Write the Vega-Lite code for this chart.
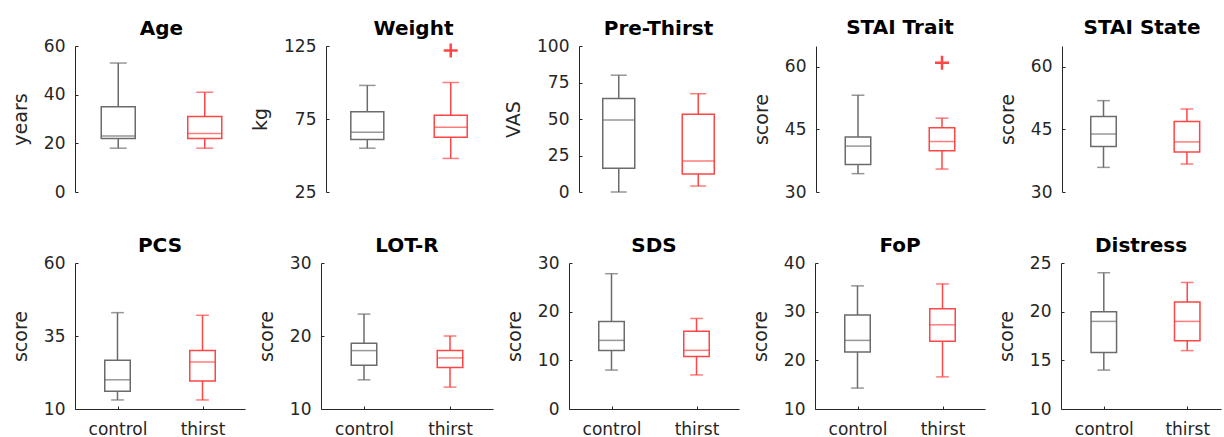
{
  "$schema": "https://vega.github.io/schema/vega-lite/v6.json",
  "padding": {"left": 11, "top": 18, "right": 0, "bottom": 0},
  "background": "white",
  "datasets": {
    "stats": [
      {"measure": "Age", "group": "control", "lower": 18, "q1": 22, "median": 23, "q3": 35, "upper": 53},
      {"measure": "Age", "group": "thirst", "lower": 18, "q1": 22, "median": 24, "q3": 31, "upper": 41},
      {"measure": "Weight", "group": "control", "lower": 55, "q1": 61, "median": 66, "q3": 80, "upper": 98},
      {"measure": "Weight", "group": "thirst", "lower": 48, "q1": 62.5, "median": 69.3, "q3": 77.5, "upper": 100},
      {"measure": "Pre-Thirst", "group": "control", "lower": 0, "q1": 16.2, "median": 49.4, "q3": 64, "upper": 80},
      {"measure": "Pre-Thirst", "group": "thirst", "lower": 4.1, "q1": 12.4, "median": 21.3, "q3": 53.3, "upper": 67.3},
      {"measure": "STAI Trait", "group": "control", "lower": 34.4, "q1": 36.6, "median": 41, "q3": 43.2, "upper": 53.2},
      {"measure": "STAI Trait", "group": "thirst", "lower": 35.5, "q1": 39.9, "median": 42.1, "q3": 45.4, "upper": 47.7},
      {"measure": "STAI State", "group": "control", "lower": 35.9, "q1": 40.9, "median": 43.9, "q3": 48.1, "upper": 51.9},
      {"measure": "STAI State", "group": "thirst", "lower": 36.7, "q1": 39.6, "median": 42, "q3": 46.9, "upper": 49.9},
      {"measure": "PCS", "group": "control", "lower": 13.1, "q1": 16.1, "median": 20, "q3": 26.7, "upper": 43},
      {"measure": "PCS", "group": "thirst", "lower": 13.1, "q1": 19.6, "median": 26.1, "q3": 30, "upper": 42.1},
      {"measure": "LOT-R", "group": "control", "lower": 14, "q1": 16, "median": 18, "q3": 19, "upper": 23},
      {"measure": "LOT-R", "group": "thirst", "lower": 13, "q1": 15.7, "median": 17, "q3": 18, "upper": 20},
      {"measure": "SDS", "group": "control", "lower": 8, "q1": 12, "median": 14.1, "q3": 18, "upper": 27.8},
      {"measure": "SDS", "group": "thirst", "lower": 7, "q1": 10.8, "median": 12.05, "q3": 16, "upper": 18.6},
      {"measure": "FoP", "group": "control", "lower": 14.3, "q1": 21.7, "median": 24.1, "q3": 29.3, "upper": 35.3},
      {"measure": "FoP", "group": "thirst", "lower": 16.6, "q1": 23.9, "median": 27.3, "q3": 30.6, "upper": 35.7},
      {"measure": "Distress", "group": "control", "lower": 14, "q1": 15.8, "median": 19, "q3": 20, "upper": 24},
      {"measure": "Distress", "group": "thirst", "lower": 16, "q1": 17, "median": 19, "q3": 21, "upper": 23}
    ],
    "outliers": [
      {"measure": "Weight", "group": "thirst", "value": 122},
      {"measure": "STAI Trait", "group": "thirst", "value": 61}
    ]
  },
  "config": {
    "view": {"stroke": null},
    "font": "DejaVu Sans",
    "title": {"font": "DejaVu Sans", "fontSize": 20, "fontWeight": "bold", "color": "#000000"},
    "axis": {
      "grid": false,
      "domainColor": "#262626",
      "domainWidth": 1,
      "tickColor": "#262626",
      "tickSize": -3,
      "tickWidth": 1,
      "labelColor": "#262626",
      "labelFont": "DejaVu Sans",
      "labelFontSize": 17,
      "titleFont": "DejaVu Sans",
      "titleFontSize": 19,
      "titleFontWeight": "normal",
      "titleColor": "#262626"
    },
    "axisY": {"labelPadding": 13, "titlePadding": 13},
    "axisX": {"labelPadding": 15, "labelAngle": 0, "title": null}
  },
  "spacing": 36,
  "vconcat": [
    {
      "bounds": "flush",
      "spacing": 78,
      "hconcat": [
        {
          "width": 173, "height": 146, "title": {"text": "Age", "offset": -2},
          "data": {"name": "stats"},
          "transform": [{"filter": "datum.measure === 'Age'"}],
          "encoding": {"x": {"field": "group", "type": "nominal", "scale": {"type": "point", "domain": ["control", "thirst"], "padding": 0.5}, "axis": null}},
          "layer": [
            {"mark": {"type": "rule", "strokeWidth": 1.5}, "encoding": {"y": {"field": "lower", "type": "quantitative", "scale": {"domain": [0, 60], "nice": false, "zero": false}, "axis": {"title": "years", "values": [0, 20, 40, 60]}}, "y2": {"field": "upper"}, "color": {"field": "group", "type": "nominal", "scale": {"domain": ["control", "thirst"], "range": ["#6b6b6b", "#ff4545"]}, "legend": null}}},
            {"mark": {"type": "bar", "fill": "white", "strokeWidth": 1.5, "width": 34}, "encoding": {"y": {"field": "q1", "type": "quantitative", "scale": {"domain": [0, 60], "nice": false, "zero": false}, "axis": {"title": "years", "values": [0, 20, 40, 60]}}, "y2": {"field": "q3"}, "stroke": {"field": "group", "type": "nominal", "scale": {"domain": ["control", "thirst"], "range": ["#6b6b6b", "#ff4545"]}, "legend": null}}},
            {"mark": {"type": "tick", "thickness": 1.5, "size": 34}, "encoding": {"y": {"field": "median", "type": "quantitative", "scale": {"domain": [0, 60], "nice": false, "zero": false}, "axis": {"title": "years", "values": [0, 20, 40, 60]}}, "color": {"field": "group", "type": "nominal", "scale": {"domain": ["control", "thirst"], "range": ["#6b6b6b", "#ff4545"]}, "legend": null}}},
            {"mark": {"type": "tick", "thickness": 1.5, "size": 17}, "encoding": {"y": {"field": "lower", "type": "quantitative", "scale": {"domain": [0, 60], "nice": false, "zero": false}, "axis": {"title": "years", "values": [0, 20, 40, 60]}}, "color": {"field": "group", "type": "nominal", "scale": {"domain": ["control", "thirst"], "range": ["#6b6b6b", "#ff4545"]}, "legend": null}}},
            {"mark": {"type": "tick", "thickness": 1.5, "size": 17}, "encoding": {"y": {"field": "upper", "type": "quantitative", "scale": {"domain": [0, 60], "nice": false, "zero": false}, "axis": {"title": "years", "values": [0, 20, 40, 60]}}, "color": {"field": "group", "type": "nominal", "scale": {"domain": ["control", "thirst"], "range": ["#6b6b6b", "#ff4545"]}, "legend": null}}}
          ]
        },
        {
          "width": 175, "height": 146, "title": {"text": "Weight", "offset": -2},
          "data": {"name": "stats"},
          "transform": [{"filter": "datum.measure === 'Weight'"}],
          "encoding": {"x": {"field": "group", "type": "nominal", "scale": {"type": "point", "domain": ["control", "thirst"], "padding": 0.549, "align": 0.451}, "axis": null}},
          "layer": [
            {"mark": {"type": "rule", "strokeWidth": 1.5}, "encoding": {"y": {"field": "lower", "type": "quantitative", "scale": {"domain": [25, 125], "nice": false, "zero": false}, "axis": {"title": "kg", "values": [25, 75, 125]}}, "y2": {"field": "upper"}, "color": {"field": "group", "type": "nominal", "scale": {"domain": ["control", "thirst"], "range": ["#6b6b6b", "#ff4545"]}, "legend": null}}},
            {"mark": {"type": "bar", "fill": "white", "strokeWidth": 1.5, "width": 33}, "encoding": {"y": {"field": "q1", "type": "quantitative", "scale": {"domain": [25, 125], "nice": false, "zero": false}, "axis": {"title": "kg", "values": [25, 75, 125]}}, "y2": {"field": "q3"}, "stroke": {"field": "group", "type": "nominal", "scale": {"domain": ["control", "thirst"], "range": ["#6b6b6b", "#ff4545"]}, "legend": null}}},
            {"mark": {"type": "tick", "thickness": 1.5, "size": 33}, "encoding": {"y": {"field": "median", "type": "quantitative", "scale": {"domain": [25, 125], "nice": false, "zero": false}, "axis": {"title": "kg", "values": [25, 75, 125]}}, "color": {"field": "group", "type": "nominal", "scale": {"domain": ["control", "thirst"], "range": ["#6b6b6b", "#ff4545"]}, "legend": null}}},
            {"mark": {"type": "tick", "thickness": 1.5, "size": 16.5}, "encoding": {"y": {"field": "lower", "type": "quantitative", "scale": {"domain": [25, 125], "nice": false, "zero": false}, "axis": {"title": "kg", "values": [25, 75, 125]}}, "color": {"field": "group", "type": "nominal", "scale": {"domain": ["control", "thirst"], "range": ["#6b6b6b", "#ff4545"]}, "legend": null}}},
            {"mark": {"type": "tick", "thickness": 1.5, "size": 16.5}, "encoding": {"y": {"field": "upper", "type": "quantitative", "scale": {"domain": [25, 125], "nice": false, "zero": false}, "axis": {"title": "kg", "values": [25, 75, 125]}}, "color": {"field": "group", "type": "nominal", "scale": {"domain": ["control", "thirst"], "range": ["#6b6b6b", "#ff4545"]}, "legend": null}}},
            {"data": {"name": "outliers"}, "transform": [{"filter": "datum.measure === 'Weight'"}], "mark": {"type": "point", "shape": "M-1,0H1M0,-1V1", "size": 196, "filled": false, "strokeWidth": 2.5, "opacity": 1}, "encoding": {"y": {"field": "value", "type": "quantitative", "scale": {"domain": [25, 125], "nice": false, "zero": false}, "axis": {"title": "kg", "values": [25, 75, 125]}}, "color": {"field": "group", "type": "nominal", "scale": {"domain": ["control", "thirst"], "range": ["#6b6b6b", "#ff4545"]}, "legend": null}}}
          ]
        },
        {
          "width": 159, "height": 146, "title": {"text": "Pre-Thirst", "offset": -2},
          "data": {"name": "stats"},
          "transform": [{"filter": "datum.measure === 'Pre-Thirst'"}],
          "encoding": {"x": {"field": "group", "type": "nominal", "scale": {"type": "point", "domain": ["control", "thirst"], "padding": 0.5}, "axis": null}},
          "layer": [
            {"mark": {"type": "rule", "strokeWidth": 1.5}, "encoding": {"y": {"field": "lower", "type": "quantitative", "scale": {"domain": [0, 100], "nice": false, "zero": false}, "axis": {"title": "VAS", "values": [0, 25, 50, 75, 100]}}, "y2": {"field": "upper"}, "color": {"field": "group", "type": "nominal", "scale": {"domain": ["control", "thirst"], "range": ["#6b6b6b", "#ff4545"]}, "legend": null}}},
            {"mark": {"type": "bar", "fill": "white", "strokeWidth": 1.5, "width": 32}, "encoding": {"y": {"field": "q1", "type": "quantitative", "scale": {"domain": [0, 100], "nice": false, "zero": false}, "axis": {"title": "VAS", "values": [0, 25, 50, 75, 100]}}, "y2": {"field": "q3"}, "stroke": {"field": "group", "type": "nominal", "scale": {"domain": ["control", "thirst"], "range": ["#6b6b6b", "#ff4545"]}, "legend": null}}},
            {"mark": {"type": "tick", "thickness": 1.5, "size": 32}, "encoding": {"y": {"field": "median", "type": "quantitative", "scale": {"domain": [0, 100], "nice": false, "zero": false}, "axis": {"title": "VAS", "values": [0, 25, 50, 75, 100]}}, "color": {"field": "group", "type": "nominal", "scale": {"domain": ["control", "thirst"], "range": ["#6b6b6b", "#ff4545"]}, "legend": null}}},
            {"mark": {"type": "tick", "thickness": 1.5, "size": 16}, "encoding": {"y": {"field": "lower", "type": "quantitative", "scale": {"domain": [0, 100], "nice": false, "zero": false}, "axis": {"title": "VAS", "values": [0, 25, 50, 75, 100]}}, "color": {"field": "group", "type": "nominal", "scale": {"domain": ["control", "thirst"], "range": ["#6b6b6b", "#ff4545"]}, "legend": null}}},
            {"mark": {"type": "tick", "thickness": 1.5, "size": 16}, "encoding": {"y": {"field": "upper", "type": "quantitative", "scale": {"domain": [0, 100], "nice": false, "zero": false}, "axis": {"title": "VAS", "values": [0, 25, 50, 75, 100]}}, "color": {"field": "group", "type": "nominal", "scale": {"domain": ["control", "thirst"], "range": ["#6b6b6b", "#ff4545"]}, "legend": null}}}
          ]
        },
        {
          "width": 168, "height": 146, "title": {"text": "STAI Trait", "offset": 8},
          "data": {"name": "stats"},
          "transform": [{"filter": "datum.measure === 'STAI Trait'"}],
          "encoding": {"x": {"field": "group", "type": "nominal", "scale": {"type": "point", "domain": ["control", "thirst"], "padding": 0.5}, "axis": null}},
          "layer": [
            {"mark": {"type": "rule", "strokeWidth": 1.5}, "encoding": {"y": {"field": "lower", "type": "quantitative", "scale": {"domain": [30, 65], "nice": false, "zero": false}, "axis": {"title": "score", "values": [30, 45, 60]}}, "y2": {"field": "upper"}, "color": {"field": "group", "type": "nominal", "scale": {"domain": ["control", "thirst"], "range": ["#6b6b6b", "#ff4545"]}, "legend": null}}},
            {"mark": {"type": "bar", "fill": "white", "strokeWidth": 1.5, "width": 25.5}, "encoding": {"y": {"field": "q1", "type": "quantitative", "scale": {"domain": [30, 65], "nice": false, "zero": false}, "axis": {"title": "score", "values": [30, 45, 60]}}, "y2": {"field": "q3"}, "stroke": {"field": "group", "type": "nominal", "scale": {"domain": ["control", "thirst"], "range": ["#6b6b6b", "#ff4545"]}, "legend": null}}},
            {"mark": {"type": "tick", "thickness": 1.5, "size": 25.5}, "encoding": {"y": {"field": "median", "type": "quantitative", "scale": {"domain": [30, 65], "nice": false, "zero": false}, "axis": {"title": "score", "values": [30, 45, 60]}}, "color": {"field": "group", "type": "nominal", "scale": {"domain": ["control", "thirst"], "range": ["#6b6b6b", "#ff4545"]}, "legend": null}}},
            {"mark": {"type": "tick", "thickness": 1.5, "size": 12.75}, "encoding": {"y": {"field": "lower", "type": "quantitative", "scale": {"domain": [30, 65], "nice": false, "zero": false}, "axis": {"title": "score", "values": [30, 45, 60]}}, "color": {"field": "group", "type": "nominal", "scale": {"domain": ["control", "thirst"], "range": ["#6b6b6b", "#ff4545"]}, "legend": null}}},
            {"mark": {"type": "tick", "thickness": 1.5, "size": 12.75}, "encoding": {"y": {"field": "upper", "type": "quantitative", "scale": {"domain": [30, 65], "nice": false, "zero": false}, "axis": {"title": "score", "values": [30, 45, 60]}}, "color": {"field": "group", "type": "nominal", "scale": {"domain": ["control", "thirst"], "range": ["#6b6b6b", "#ff4545"]}, "legend": null}}},
            {"data": {"name": "outliers"}, "transform": [{"filter": "datum.measure === 'STAI Trait'"}], "mark": {"type": "point", "shape": "M-1,0H1M0,-1V1", "size": 196, "filled": false, "strokeWidth": 2.5, "opacity": 1}, "encoding": {"y": {"field": "value", "type": "quantitative", "scale": {"domain": [30, 65], "nice": false, "zero": false}, "axis": {"title": "score", "values": [30, 45, 60]}}, "color": {"field": "group", "type": "nominal", "scale": {"domain": ["control", "thirst"], "range": ["#6b6b6b", "#ff4545"]}, "legend": null}}}
          ]
        },
        {
          "width": 160, "height": 146, "title": {"text": "STAI State", "offset": 8},
          "data": {"name": "stats"},
          "transform": [{"filter": "datum.measure === 'STAI State'"}],
          "encoding": {"x": {"field": "group", "type": "nominal", "scale": {"type": "point", "domain": ["control", "thirst"], "padding": 0.459, "align": 0.542}, "axis": null}},
          "layer": [
            {"mark": {"type": "rule", "strokeWidth": 1.5}, "encoding": {"y": {"field": "lower", "type": "quantitative", "scale": {"domain": [30, 65], "nice": false, "zero": false}, "axis": {"title": "score", "values": [30, 45, 60]}}, "y2": {"field": "upper"}, "color": {"field": "group", "type": "nominal", "scale": {"domain": ["control", "thirst"], "range": ["#6b6b6b", "#ff4545"]}, "legend": null}}},
            {"mark": {"type": "bar", "fill": "white", "strokeWidth": 1.5, "width": 25.5}, "encoding": {"y": {"field": "q1", "type": "quantitative", "scale": {"domain": [30, 65], "nice": false, "zero": false}, "axis": {"title": "score", "values": [30, 45, 60]}}, "y2": {"field": "q3"}, "stroke": {"field": "group", "type": "nominal", "scale": {"domain": ["control", "thirst"], "range": ["#6b6b6b", "#ff4545"]}, "legend": null}}},
            {"mark": {"type": "tick", "thickness": 1.5, "size": 25.5}, "encoding": {"y": {"field": "median", "type": "quantitative", "scale": {"domain": [30, 65], "nice": false, "zero": false}, "axis": {"title": "score", "values": [30, 45, 60]}}, "color": {"field": "group", "type": "nominal", "scale": {"domain": ["control", "thirst"], "range": ["#6b6b6b", "#ff4545"]}, "legend": null}}},
            {"mark": {"type": "tick", "thickness": 1.5, "size": 12.75}, "encoding": {"y": {"field": "lower", "type": "quantitative", "scale": {"domain": [30, 65], "nice": false, "zero": false}, "axis": {"title": "score", "values": [30, 45, 60]}}, "color": {"field": "group", "type": "nominal", "scale": {"domain": ["control", "thirst"], "range": ["#6b6b6b", "#ff4545"]}, "legend": null}}},
            {"mark": {"type": "tick", "thickness": 1.5, "size": 12.75}, "encoding": {"y": {"field": "upper", "type": "quantitative", "scale": {"domain": [30, 65], "nice": false, "zero": false}, "axis": {"title": "score", "values": [30, 45, 60]}}, "color": {"field": "group", "type": "nominal", "scale": {"domain": ["control", "thirst"], "range": ["#6b6b6b", "#ff4545"]}, "legend": null}}}
          ]
        }
      ]
    },
    {
      "bounds": "flush",
      "spacing": 76,
      "hconcat": [
        {
          "width": 170, "height": 146, "title": {"text": "PCS", "offset": -2},
          "data": {"name": "stats"},
          "transform": [{"filter": "datum.measure === 'PCS'"}],
          "encoding": {"x": {"field": "group", "type": "nominal", "scale": {"type": "point", "domain": ["control", "thirst"], "padding": 0.5}, "axis": {}}},
          "layer": [
            {"mark": {"type": "rule", "strokeWidth": 1.5}, "encoding": {"y": {"field": "lower", "type": "quantitative", "scale": {"domain": [10, 60], "nice": false, "zero": false}, "axis": {"title": "score", "values": [10, 35, 60]}}, "y2": {"field": "upper"}, "color": {"field": "group", "type": "nominal", "scale": {"domain": ["control", "thirst"], "range": ["#6b6b6b", "#ff4545"]}, "legend": null}}},
            {"mark": {"type": "bar", "fill": "white", "strokeWidth": 1.5, "width": 25.5}, "encoding": {"y": {"field": "q1", "type": "quantitative", "scale": {"domain": [10, 60], "nice": false, "zero": false}, "axis": {"title": "score", "values": [10, 35, 60]}}, "y2": {"field": "q3"}, "stroke": {"field": "group", "type": "nominal", "scale": {"domain": ["control", "thirst"], "range": ["#6b6b6b", "#ff4545"]}, "legend": null}}},
            {"mark": {"type": "tick", "thickness": 1.5, "size": 25.5}, "encoding": {"y": {"field": "median", "type": "quantitative", "scale": {"domain": [10, 60], "nice": false, "zero": false}, "axis": {"title": "score", "values": [10, 35, 60]}}, "color": {"field": "group", "type": "nominal", "scale": {"domain": ["control", "thirst"], "range": ["#6b6b6b", "#ff4545"]}, "legend": null}}},
            {"mark": {"type": "tick", "thickness": 1.5, "size": 12.75}, "encoding": {"y": {"field": "lower", "type": "quantitative", "scale": {"domain": [10, 60], "nice": false, "zero": false}, "axis": {"title": "score", "values": [10, 35, 60]}}, "color": {"field": "group", "type": "nominal", "scale": {"domain": ["control", "thirst"], "range": ["#6b6b6b", "#ff4545"]}, "legend": null}}},
            {"mark": {"type": "tick", "thickness": 1.5, "size": 12.75}, "encoding": {"y": {"field": "upper", "type": "quantitative", "scale": {"domain": [10, 60], "nice": false, "zero": false}, "axis": {"title": "score", "values": [10, 35, 60]}}, "color": {"field": "group", "type": "nominal", "scale": {"domain": ["control", "thirst"], "range": ["#6b6b6b", "#ff4545"]}, "legend": null}}}
          ]
        },
        {
          "width": 172, "height": 146, "title": {"text": "LOT-R", "offset": -2},
          "data": {"name": "stats"},
          "transform": [{"filter": "datum.measure === 'LOT-R'"}],
          "encoding": {"x": {"field": "group", "type": "nominal", "scale": {"type": "point", "domain": ["control", "thirst"], "padding": 0.5}, "axis": {}}},
          "layer": [
            {"mark": {"type": "rule", "strokeWidth": 1.5}, "encoding": {"y": {"field": "lower", "type": "quantitative", "scale": {"domain": [10, 30], "nice": false, "zero": false}, "axis": {"title": "score", "values": [10, 20, 30]}}, "y2": {"field": "upper"}, "color": {"field": "group", "type": "nominal", "scale": {"domain": ["control", "thirst"], "range": ["#6b6b6b", "#ff4545"]}, "legend": null}}},
            {"mark": {"type": "bar", "fill": "white", "strokeWidth": 1.5, "width": 25.5}, "encoding": {"y": {"field": "q1", "type": "quantitative", "scale": {"domain": [10, 30], "nice": false, "zero": false}, "axis": {"title": "score", "values": [10, 20, 30]}}, "y2": {"field": "q3"}, "stroke": {"field": "group", "type": "nominal", "scale": {"domain": ["control", "thirst"], "range": ["#6b6b6b", "#ff4545"]}, "legend": null}}},
            {"mark": {"type": "tick", "thickness": 1.5, "size": 25.5}, "encoding": {"y": {"field": "median", "type": "quantitative", "scale": {"domain": [10, 30], "nice": false, "zero": false}, "axis": {"title": "score", "values": [10, 20, 30]}}, "color": {"field": "group", "type": "nominal", "scale": {"domain": ["control", "thirst"], "range": ["#6b6b6b", "#ff4545"]}, "legend": null}}},
            {"mark": {"type": "tick", "thickness": 1.5, "size": 12.75}, "encoding": {"y": {"field": "lower", "type": "quantitative", "scale": {"domain": [10, 30], "nice": false, "zero": false}, "axis": {"title": "score", "values": [10, 20, 30]}}, "color": {"field": "group", "type": "nominal", "scale": {"domain": ["control", "thirst"], "range": ["#6b6b6b", "#ff4545"]}, "legend": null}}},
            {"mark": {"type": "tick", "thickness": 1.5, "size": 12.75}, "encoding": {"y": {"field": "upper", "type": "quantitative", "scale": {"domain": [10, 30], "nice": false, "zero": false}, "axis": {"title": "score", "values": [10, 20, 30]}}, "color": {"field": "group", "type": "nominal", "scale": {"domain": ["control", "thirst"], "range": ["#6b6b6b", "#ff4545"]}, "legend": null}}}
          ]
        },
        {
          "width": 170, "height": 146, "title": {"text": "SDS", "offset": -2},
          "data": {"name": "stats"},
          "transform": [{"filter": "datum.measure === 'SDS'"}],
          "encoding": {"x": {"field": "group", "type": "nominal", "scale": {"type": "point", "domain": ["control", "thirst"], "padding": 0.5}, "axis": {}}},
          "layer": [
            {"mark": {"type": "rule", "strokeWidth": 1.5}, "encoding": {"y": {"field": "lower", "type": "quantitative", "scale": {"domain": [0, 30], "nice": false, "zero": false}, "axis": {"title": "score", "values": [0, 10, 20, 30]}}, "y2": {"field": "upper"}, "color": {"field": "group", "type": "nominal", "scale": {"domain": ["control", "thirst"], "range": ["#6b6b6b", "#ff4545"]}, "legend": null}}},
            {"mark": {"type": "bar", "fill": "white", "strokeWidth": 1.5, "width": 25.5}, "encoding": {"y": {"field": "q1", "type": "quantitative", "scale": {"domain": [0, 30], "nice": false, "zero": false}, "axis": {"title": "score", "values": [0, 10, 20, 30]}}, "y2": {"field": "q3"}, "stroke": {"field": "group", "type": "nominal", "scale": {"domain": ["control", "thirst"], "range": ["#6b6b6b", "#ff4545"]}, "legend": null}}},
            {"mark": {"type": "tick", "thickness": 1.5, "size": 25.5}, "encoding": {"y": {"field": "median", "type": "quantitative", "scale": {"domain": [0, 30], "nice": false, "zero": false}, "axis": {"title": "score", "values": [0, 10, 20, 30]}}, "color": {"field": "group", "type": "nominal", "scale": {"domain": ["control", "thirst"], "range": ["#6b6b6b", "#ff4545"]}, "legend": null}}},
            {"mark": {"type": "tick", "thickness": 1.5, "size": 12.75}, "encoding": {"y": {"field": "lower", "type": "quantitative", "scale": {"domain": [0, 30], "nice": false, "zero": false}, "axis": {"title": "score", "values": [0, 10, 20, 30]}}, "color": {"field": "group", "type": "nominal", "scale": {"domain": ["control", "thirst"], "range": ["#6b6b6b", "#ff4545"]}, "legend": null}}},
            {"mark": {"type": "tick", "thickness": 1.5, "size": 12.75}, "encoding": {"y": {"field": "upper", "type": "quantitative", "scale": {"domain": [0, 30], "nice": false, "zero": false}, "axis": {"title": "score", "values": [0, 10, 20, 30]}}, "color": {"field": "group", "type": "nominal", "scale": {"domain": ["control", "thirst"], "range": ["#6b6b6b", "#ff4545"]}, "legend": null}}}
          ]
        },
        {
          "width": 170, "height": 146, "title": {"text": "FoP", "offset": -2},
          "data": {"name": "stats"},
          "transform": [{"filter": "datum.measure === 'FoP'"}],
          "encoding": {"x": {"field": "group", "type": "nominal", "scale": {"type": "point", "domain": ["control", "thirst"], "padding": 0.5}, "axis": {}}},
          "layer": [
            {"mark": {"type": "rule", "strokeWidth": 1.5}, "encoding": {"y": {"field": "lower", "type": "quantitative", "scale": {"domain": [10, 40], "nice": false, "zero": false}, "axis": {"title": "score", "values": [10, 20, 30, 40]}}, "y2": {"field": "upper"}, "color": {"field": "group", "type": "nominal", "scale": {"domain": ["control", "thirst"], "range": ["#6b6b6b", "#ff4545"]}, "legend": null}}},
            {"mark": {"type": "bar", "fill": "white", "strokeWidth": 1.5, "width": 25.5}, "encoding": {"y": {"field": "q1", "type": "quantitative", "scale": {"domain": [10, 40], "nice": false, "zero": false}, "axis": {"title": "score", "values": [10, 20, 30, 40]}}, "y2": {"field": "q3"}, "stroke": {"field": "group", "type": "nominal", "scale": {"domain": ["control", "thirst"], "range": ["#6b6b6b", "#ff4545"]}, "legend": null}}},
            {"mark": {"type": "tick", "thickness": 1.5, "size": 25.5}, "encoding": {"y": {"field": "median", "type": "quantitative", "scale": {"domain": [10, 40], "nice": false, "zero": false}, "axis": {"title": "score", "values": [10, 20, 30, 40]}}, "color": {"field": "group", "type": "nominal", "scale": {"domain": ["control", "thirst"], "range": ["#6b6b6b", "#ff4545"]}, "legend": null}}},
            {"mark": {"type": "tick", "thickness": 1.5, "size": 12.75}, "encoding": {"y": {"field": "lower", "type": "quantitative", "scale": {"domain": [10, 40], "nice": false, "zero": false}, "axis": {"title": "score", "values": [10, 20, 30, 40]}}, "color": {"field": "group", "type": "nominal", "scale": {"domain": ["control", "thirst"], "range": ["#6b6b6b", "#ff4545"]}, "legend": null}}},
            {"mark": {"type": "tick", "thickness": 1.5, "size": 12.75}, "encoding": {"y": {"field": "upper", "type": "quantitative", "scale": {"domain": [10, 40], "nice": false, "zero": false}, "axis": {"title": "score", "values": [10, 20, 30, 40]}}, "color": {"field": "group", "type": "nominal", "scale": {"domain": ["control", "thirst"], "range": ["#6b6b6b", "#ff4545"]}, "legend": null}}}
          ]
        },
        {
          "width": 160, "height": 146, "title": {"text": "Distress", "offset": -2},
          "data": {"name": "stats"},
          "transform": [{"filter": "datum.measure === 'Distress'"}],
          "encoding": {"x": {"field": "group", "type": "nominal", "scale": {"type": "point", "domain": ["control", "thirst"], "padding": 0.459, "align": 0.559}, "axis": {}}},
          "layer": [
            {"mark": {"type": "rule", "strokeWidth": 1.5}, "encoding": {"y": {"field": "lower", "type": "quantitative", "scale": {"domain": [10, 25], "nice": false, "zero": false}, "axis": {"title": "score", "values": [10, 15, 20, 25]}}, "y2": {"field": "upper"}, "color": {"field": "group", "type": "nominal", "scale": {"domain": ["control", "thirst"], "range": ["#6b6b6b", "#ff4545"]}, "legend": null}}},
            {"mark": {"type": "bar", "fill": "white", "strokeWidth": 1.5, "width": 25.5}, "encoding": {"y": {"field": "q1", "type": "quantitative", "scale": {"domain": [10, 25], "nice": false, "zero": false}, "axis": {"title": "score", "values": [10, 15, 20, 25]}}, "y2": {"field": "q3"}, "stroke": {"field": "group", "type": "nominal", "scale": {"domain": ["control", "thirst"], "range": ["#6b6b6b", "#ff4545"]}, "legend": null}}},
            {"mark": {"type": "tick", "thickness": 1.5, "size": 25.5}, "encoding": {"y": {"field": "median", "type": "quantitative", "scale": {"domain": [10, 25], "nice": false, "zero": false}, "axis": {"title": "score", "values": [10, 15, 20, 25]}}, "color": {"field": "group", "type": "nominal", "scale": {"domain": ["control", "thirst"], "range": ["#6b6b6b", "#ff4545"]}, "legend": null}}},
            {"mark": {"type": "tick", "thickness": 1.5, "size": 12.75}, "encoding": {"y": {"field": "lower", "type": "quantitative", "scale": {"domain": [10, 25], "nice": false, "zero": false}, "axis": {"title": "score", "values": [10, 15, 20, 25]}}, "color": {"field": "group", "type": "nominal", "scale": {"domain": ["control", "thirst"], "range": ["#6b6b6b", "#ff4545"]}, "legend": null}}},
            {"mark": {"type": "tick", "thickness": 1.5, "size": 12.75}, "encoding": {"y": {"field": "upper", "type": "quantitative", "scale": {"domain": [10, 25], "nice": false, "zero": false}, "axis": {"title": "score", "values": [10, 15, 20, 25]}}, "color": {"field": "group", "type": "nominal", "scale": {"domain": ["control", "thirst"], "range": ["#6b6b6b", "#ff4545"]}, "legend": null}}}
          ]
        }
      ]
    }
  ]
}
